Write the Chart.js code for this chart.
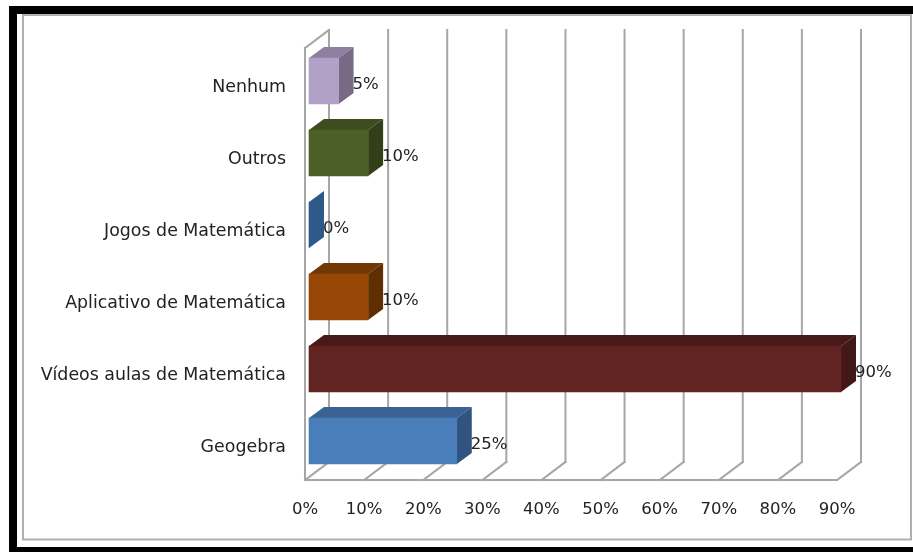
<!DOCTYPE html>
<html><head><meta charset="utf-8">
<style>html,body{margin:0;padding:0;background:#fff}canvas{display:block}</style>
<script src="https://cdn.jsdelivr.net/npm/chart.js@4"></script></head>
<body><div style="width:913px;height:552px"><canvas id="c" width="913" height="552"></canvas></div>
<script>
const categories = ["Nenhum","Outros","Jogos de Matemática","Aplicativo de Matemática","Vídeos aulas de Matemática","Geogebra"];
const values = [5,10,0,10,90,25];
const frontColors = ["#b1a0c7","#4b5f26","#2e5a8a","#974706","#612422","#4a7ebb"];
const topColors = ["#8e7fa0","#3d4d1f","#2e5a8a","#733605","#471a19","#3a6393"];
const sideColors = ["#766a85","#323f18","#2e5a8a","#5f2f04","#421817","#30547f"];
const tickValues = [0,10,20,30,40,50,60,70,80,90];
const FONT = "'DejaVu Sans'";

const DEPTH_WALL = [24,-18], DEPTH_BAR = [15,-11], BAR_SHIFT = [4,-3];
const GRID = "#a6a6a6";

const frame = {
  id:"frame",
  beforeDraw(ch){
    const c = ch.ctx;
    c.save();
    c.fillStyle="#fff"; c.fillRect(0,0,913,552);
    c.fillStyle="#000";
    c.fillRect(9,6,904,546);
    c.fillStyle="#fff";
    c.fillRect(17,14,896,533);
    c.strokeStyle="#b0b0b0"; c.lineWidth=2;
    c.strokeRect(23,15,888,524.5);
    c.restore();
  }
};
const walls = {
  id:"walls",
  beforeDatasetsDraw(ch){
    const c = ch.ctx, xs = ch.scales.x, a = ch.chartArea;
    const [dx,dy] = DEPTH_WALL;
    c.save();
    c.strokeStyle=GRID; c.lineWidth=2; c.lineCap="square";
    const l=(x1,y1,x2,y2)=>{c.beginPath();c.moveTo(x1,y1);c.lineTo(x2,y2);c.stroke();};
    tickValues.forEach(v=>{
      const x = xs.getPixelForValue(v);
      l(x,a.bottom,x+dx,a.bottom+dy);
      l(x+dx,a.bottom+dy,x+dx,a.top+dy);
    });
    const x0 = xs.getPixelForValue(0);
    l(x0,a.top,x0,a.bottom);
    l(x0,a.top,x0+dx,a.top+dy);
    l(x0,a.bottom,xs.getPixelForValue(90),a.bottom);
    c.restore();
    c.save();
    c.translate(BAR_SHIFT[0],BAR_SHIFT[1]);
    const meta = ch.getDatasetMeta(0);
    meta.data.forEach((b,i)=>{
      const [ox,oy]=DEPTH_BAR;
      const top=b.y-b.height/2, bot=b.y+b.height/2, x1=b.base, x2=b.x;
      c.fillStyle=topColors[i];
      c.beginPath();c.moveTo(x1,top);c.lineTo(x1+ox,top+oy);c.lineTo(x2+ox,top+oy);c.lineTo(x2,top);c.closePath();c.fill();
      c.fillStyle=sideColors[i];
      c.beginPath();c.moveTo(x2,top);c.lineTo(x2+ox,top+oy);c.lineTo(x2+ox,bot+oy);c.lineTo(x2,bot);c.closePath();c.fill();
    });
    c.restore();
    c.save();
    c.translate(BAR_SHIFT[0],BAR_SHIFT[1]);
  },
  afterDatasetsDraw(ch){
    const c = ch.ctx;
    c.restore();
    c.save();
    c.fillStyle="#222"; c.font="16.5px "+FONT; c.textAlign="left"; c.textBaseline="middle";
    ch.getDatasetMeta(0).data.forEach((b,i)=>{
      c.fillText(values[i]+"%", b.x+18, b.y+0.5);
    });
    c.restore();
  }
};
new Chart(document.getElementById("c"),{
  type:"bar",
  data:{labels:categories,datasets:[{data:values,backgroundColor:frontColors,borderWidth:0,barThickness:46,clip:false}]},
  plugins:[frame,walls],
  options:{
    indexAxis:"y",responsive:false,animation:false,
    layout:{padding:{left:0,right:76,top:48,bottom:0}},
    plugins:{legend:{display:false},tooltip:{enabled:false},title:{display:false}},
    scales:{
      x:{type:"linear",min:0,max:90,
        afterFit(s){s.height=72;},
        afterBuildTicks(s){s.ticks=tickValues.map(v=>({value:v}));},
        grid:{display:false},border:{display:false},
        ticks:{padding:12,maxRotation:0,autoSkip:false,color:"#222",font:{family:FONT,size:16.5},callback:v=>v+"%"}},
      y:{type:"category",
        afterFit(s){s.width=305;},
        grid:{display:false},border:{display:false},
        ticks:{padding:11,labelOffset:3,autoSkip:false,color:"#222",font:{family:FONT,size:17.4}}}
    }
  }
});
</script></body></html>
